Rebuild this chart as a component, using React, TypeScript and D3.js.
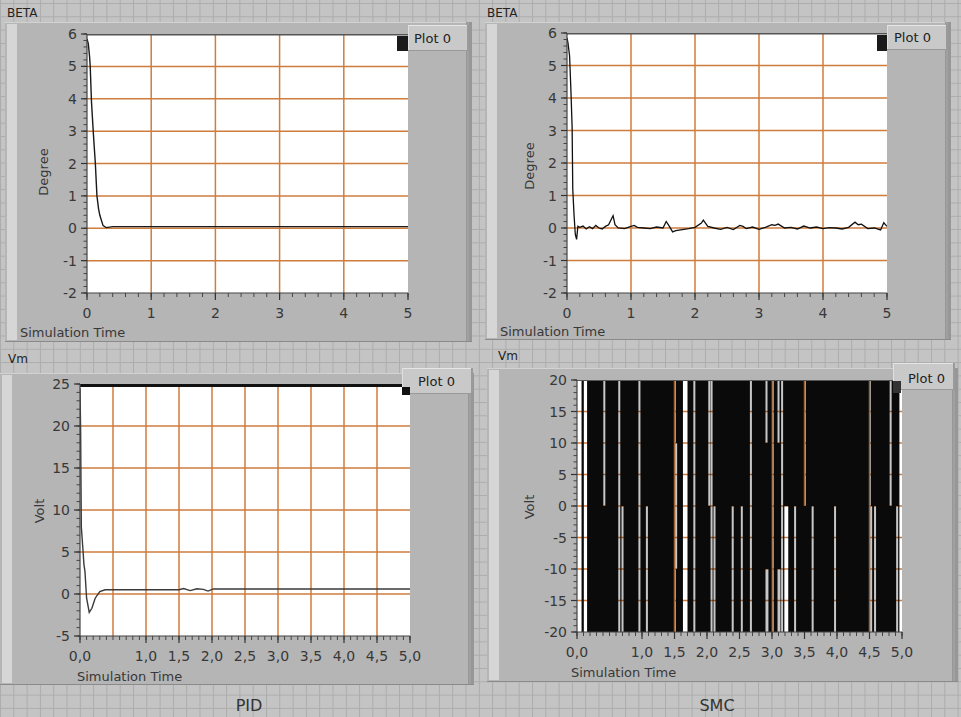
import type { ReactNode } from 'react';
import * as d3 from 'd3';

// BETA (degree) with the PID controller
const betaPidTime = [0, 0.02, 0.04, 0.05, 0.07, 0.1, 0.13, 0.155, 0.18, 0.2, 0.25, 0.3, 0.4, 1, 2, 3, 4, 5];
const betaPidDeg = [5.85, 5.7, 5.3, 5.0, 3.9, 2.9, 2.0, 1.0, 0.6, 0.4, 0.08, 0.02, 0.05, 0.05, 0.05, 0.05, 0.05, 0.05];

// BETA (degree) with the SMC controller
const betaSmcTime = [
  0, 0.015, 0.04, 0.06, 0.08, 0.09, 0.11, 0.13, 0.15, 0.17, 0.2, 0.25, 0.3, 0.35, 0.4, 0.45, 0.5, 0.55, 0.6,
  0.65, 0.7, 0.72, 0.75, 0.8, 0.9, 1.0, 1.05, 1.1, 1.2, 1.3, 1.4, 1.5, 1.55, 1.6, 1.65, 1.7, 1.8, 1.9, 2.0,
  2.1, 2.13, 2.2, 2.3, 2.4, 2.5, 2.6, 2.7, 2.75, 2.8, 2.9, 3.0, 3.1, 3.2, 3.25, 3.3, 3.4, 3.5, 3.6, 3.7, 3.8,
  3.9, 4.0, 4.1, 4.2, 4.3, 4.4, 4.5, 4.55, 4.6, 4.7, 4.8, 4.9, 4.95, 5.0,
];
const betaSmcDeg = [
  5.85, 5.7, 5.3, 4.3, 3.1, 1.2, 0.4, -0.2, -0.35, 0.05, 0.02, 0.06, -0.03, 0.04, -0.02, 0.08, 0.0, -0.03, 0.05,
  0.1, 0.3, 0.38, 0.1, 0.0, -0.02, 0.05, 0.08, 0.02, 0.0, -0.02, 0.03, 0.0, 0.2, 0.05, -0.12, -0.08, -0.05, -0.02,
  0.02, 0.15, 0.24, 0.05, 0.0, -0.04, 0.02, -0.05, 0.08, 0.05, -0.02, 0.03, -0.04, 0.02, 0.1, 0.08, 0.12, 0.0,
  0.02, -0.03, 0.06, 0.0, 0.03, -0.02, 0.01, 0.0, -0.03, 0.02, 0.18, 0.1, 0.12, -0.02, 0.0, -0.06, 0.16, 0.05,
];

// Vm (volt) with the PID controller
const vmPidTime = [0, 0.01, 0.015, 0.02, 0.04, 0.06, 0.075, 0.1, 0.14, 0.18, 0.23, 0.3, 0.38, 0.45, 1.5, 1.57, 1.67, 1.77, 1.87, 1.94, 2.02, 3, 4, 5];
const vmPidVolt = [24.5, 19.1, 13.2, 8, 5.8, 3.5, 2.7, -0.5, -2.2, -1.7, -0.5, 0.3, 0.5, 0.5, 0.5, 0.65, 0.4, 0.63, 0.55, 0.35, 0.6, 0.6, 0.6, 0.6];

// Vm with SMC: output chatters between +20 and -20 V; gaps are [t0, t1, vLow, vHigh]
const smcChatterSpan = [0, 4.96];
const smcGaps: [number, number, number, number][] = [
  [0.0, 0.07, -20, 20], [0.105, 0.155, -20, 20], [0.405, 0.43, 0, 20], [0.635, 0.66, -20, 20],
  [0.685, 0.71, -20, 0], [0.945, 0.97, -20, 20], [1.06, 1.085, -20, 0], [1.49, 1.51, -20, 20],
  [1.51, 1.535, -10, 10], [1.63, 1.7, -20, 20], [1.79, 1.815, -20, 20], [2.02, 2.045, 0, 20],
  [2.055, 2.08, -20, 20], [2.1, 2.125, -20, 0], [2.38, 2.405, -20, 0], [2.52, 2.545, -20, 0],
  [2.66, 2.685, -20, 20], [2.9, 2.925, 10, 20], [2.9, 2.945, -20, -10], [2.995, 3.02, -20, 20],
  [3.085, 3.11, 10, 20], [3.085, 3.13, -20, -10], [3.14, 3.165, -20, 20], [3.19, 3.25, -20, 0],
  [3.34, 3.365, -20, 0], [3.49, 3.51, 0, 20], [3.61, 3.635, -20, 0], [3.955, 3.98, -20, 0],
  [4.49, 4.51, -20, 20], [4.51, 4.535, -20, 0], [4.57, 4.595, -20, 0], [4.81, 4.835, 0, 20],
  [4.91, 4.935, -20, 0],
];

const betaYTicks = [-2, -1, 0, 1, 2, 3, 4, 5, 6];
const betaXTicks = [0, 1, 2, 3, 4, 5];
const vmPidYTicks = [-5, 0, 5, 10, 15, 20, 25];
const vmSmcYTicks = [-20, -15, -10, -5, 0, 5, 10, 15, 20];
const vmXTicks = [0, 1, 1.5, 2, 2.5, 3, 3.5, 4, 4.5, 5];
const vmXGrid = [0.5, 1, 1.5, 2, 2.5, 3, 3.5, 4, 4.5];

const locale = d3.formatLocale({ decimal: ',', thousands: '.', grouping: [3], currency: ['', ''], minus: '-' });
const fmtInt = locale.format('d');
const fmtDec = locale.format('.1f');

const FONT = '"DejaVu Sans", Verdana, sans-serif';
const GRID = '#cf7d3c';
const INK = '#383838';

type Box = { x: number; y: number; w: number; h: number };
type Scale = d3.ScaleLinear<number, number>;

type PanelProps = {
  id: string;
  title: string;
  titleAt: [number, number];
  yLabel: string;
  yLabelAt: [number, number];
  xLabelAt: [number, number];
  frame: Box;
  plot: Box;
  yDomain: [number, number];
  xTicks: number[];
  xGrid: number[];
  xMinor: number;
  yTicks: number[];
  yGrid: number[];
  yMinor: number;
  xFmt: (v: number) => string;
  yFmt: (v: number) => string;
  legend: Box;
  legendText: [number, number];
  swatch: Box;
  swatchColor: string;
  topEdge: [string, number];
  children: (x: Scale, y: Scale) => ReactNode;
};

function Panel(p: PanelProps) {
  const { frame, plot } = p;
  const x = d3.scaleLinear().domain([0, 5]).range([plot.x, plot.x + plot.w]);
  const y = d3.scaleLinear().domain(p.yDomain).range([plot.y + plot.h, plot.y]);
  const x1 = plot.x + plot.w;
  const y1 = plot.y + plot.h;
  const xMinor = d3.range(0, 5 + 1e-9, p.xMinor);
  const yMinor = d3.range(p.yDomain[0], p.yDomain[1] + 1e-9, p.yMinor);

  return (
    <g>
      {/* panel body */}
      <rect x={frame.x} y={frame.y} width={frame.w} height={frame.h} fill="#b5b5b5" />
      <rect x={frame.x + 2} y={frame.y + 2} width={10} height={frame.h - 4} fill="#d6d6d6" />
      <line x1={frame.x} x2={frame.x + frame.w} y1={frame.y + 0.5} y2={frame.y + 0.5} stroke="#d2d2d2" />
      <rect x={frame.x + frame.w - 6} y={frame.y} width={6} height={frame.h} fill="#979797" />
      <line x1={frame.x + frame.w - 4} x2={frame.x + frame.w - 4} y1={frame.y} y2={frame.y + frame.h} stroke="#aaa" />
      <line x1={frame.x} x2={frame.x + frame.w} y1={frame.y + frame.h - 0.5} y2={frame.y + frame.h - 0.5} stroke="#8a8a8a" />

      <text x={p.titleAt[0]} y={p.titleAt[1]} fontFamily={FONT} fontSize={12} fill="#222">{p.title}</text>

      {/* plot area */}
      <clipPath id={`clip-${p.id}`}>
        <rect x={plot.x} y={plot.y} width={plot.w} height={plot.h} />
      </clipPath>
      <rect x={plot.x} y={plot.y} width={plot.w} height={plot.h} fill="#fff" />
      <g stroke={GRID} strokeWidth={1.5}>
        {p.yGrid.map(v => (
          <line key={`gy${v}`} x1={plot.x} x2={x1} y1={y(v)} y2={y(v)} />
        ))}
        {p.xGrid.map(v => (
          <line key={`gx${v}`} x1={x(v)} x2={x(v)} y1={plot.y} y2={y1} />
        ))}
      </g>
      <g clipPath={`url(#clip-${p.id})`}>{p.children(x, y)}</g>
      <line x1={plot.x} x2={x1} y1={plot.y + p.topEdge[1] / 2} y2={plot.y + p.topEdge[1] / 2} stroke={p.topEdge[0]} strokeWidth={p.topEdge[1]} />

      {/* y axis */}
      <line x1={plot.x} x2={plot.x} y1={plot.y} y2={y1} stroke="#444" strokeWidth={1.2} />
      {yMinor.map(v => (
        <line key={`my${v}`} x1={plot.x - 3.5} x2={plot.x} y1={y(v)} y2={y(v)} stroke="#444" />
      ))}
      {p.yTicks.map(v => (
        <g key={`ty${v}`}>
          <line x1={plot.x - 6} x2={plot.x} y1={y(v)} y2={y(v)} stroke="#333" strokeWidth={1.2} />
          <text x={plot.x - 10} y={y(v)} dy="0.36em" textAnchor="end" fontFamily={FONT} fontSize={14} fill={INK}>
            {p.yFmt(v)}
          </text>
        </g>
      ))}

      {/* x axis */}
      <line x1={plot.x} x2={x1} y1={y1} y2={y1} stroke="#444" strokeWidth={1.2} />
      {xMinor.map(v => (
        <line key={`mx${v}`} x1={x(v)} x2={x(v)} y1={y1} y2={y1 + 4} stroke="#444" />
      ))}
      {p.xTicks.map(v => (
        <g key={`tx${v}`}>
          <line x1={x(v)} x2={x(v)} y1={y1} y2={y1 + 7} stroke="#333" strokeWidth={1.2} />
          <text x={x(v)} y={y1 + 25} textAnchor="middle" fontFamily={FONT} fontSize={14} fill={INK}>
            {p.xFmt(v)}
          </text>
        </g>
      ))}

      <text
        transform={`translate(${p.yLabelAt[0]},${p.yLabelAt[1]}) rotate(-90)`}
        textAnchor="middle"
        dy="0.35em"
        fontFamily={FONT}
        fontSize={13}
        fill={INK}
      >
        {p.yLabel}
      </text>
      <text x={p.xLabelAt[0]} y={p.xLabelAt[1]} fontFamily={FONT} fontSize={13} fill={INK}>
        Simulation Time
      </text>

      {/* legend */}
      <rect x={p.legend.x} y={p.legend.y} width={p.legend.w} height={p.legend.h} fill="#c9c9c9" />
      <line x1={p.legend.x} x2={p.legend.x + p.legend.w} y1={p.legend.y + 0.5} y2={p.legend.y + 0.5} stroke="#e6e6e6" />
      <line x1={p.legend.x + 0.5} x2={p.legend.x + 0.5} y1={p.legend.y} y2={p.legend.y + p.legend.h} stroke="#e0e0e0" />
      <line x1={p.legend.x} x2={p.legend.x + p.legend.w} y1={p.legend.y + p.legend.h - 0.5} y2={p.legend.y + p.legend.h - 0.5} stroke="#9a9a9a" />
      <line x1={p.legend.x + p.legend.w - 1} x2={p.legend.x + p.legend.w - 1} y1={p.legend.y} y2={p.legend.y + p.legend.h} stroke="#9a9a9a" strokeWidth={2} />
      <text x={p.legendText[0]} y={p.legendText[1]} fontFamily={FONT} fontSize={13} fill="#222">Plot 0</text>
      <rect x={p.swatch.x} y={p.swatch.y} width={p.swatch.w} height={p.swatch.h} fill={p.swatchColor} />
    </g>
  );
}

export default function App() {
  const lineOf = (x: Scale, y: Scale) =>
    d3
      .line<[number, number]>()
      .x(d => x(d[0]))
      .y(d => y(d[1]));

  const betaPid = betaPidTime.map((t, i) => [t, betaPidDeg[i]] as [number, number]);
  const betaSmc = betaSmcTime.map((t, i) => [t, betaSmcDeg[i]] as [number, number]);
  const vmPid = vmPidTime.map((t, i) => [t, vmPidVolt[i]] as [number, number]);

  return (
    <svg width={961} height={717} style={{ position: 'absolute', left: 0, top: 0, display: 'block' }}>
      <defs>
        <pattern id="paper" width={13.3} height={13.3} patternUnits="userSpaceOnUse" x={0} y={3}>
          <rect width={13.3} height={13.3} fill="#c4c4c4" />
          <path d="M0 0.5 H13.3 M0.5 0 V13.3" stroke="#acacac" strokeWidth={1} fill="none" />
        </pattern>
      </defs>
      <rect width={961} height={717} fill="url(#paper)" />

      <Panel
        id="tl"
        title="BETA"
        titleAt={[7, 17]}
        yLabel="Degree"
        yLabelAt={[43, 172]}
        xLabelAt={[20, 337]}
        frame={{ x: 5, y: 22, w: 467, h: 320 }}
        plot={{ x: 87, y: 34, w: 321, h: 259 }}
        yDomain={[-2, 6]}
        xTicks={betaXTicks}
        xGrid={[1, 2, 3, 4]}
        xMinor={0.2}
        yTicks={betaYTicks}
        yGrid={[-1, 0, 1, 2, 3, 4, 5]}
        yMinor={0.2}
        xFmt={fmtInt}
        yFmt={fmtInt}
        legend={{ x: 408, y: 25, w: 61, h: 26 }}
        legendText={[414, 43]}
        swatch={{ x: 397, y: 36, w: 11, h: 15 }}
        swatchColor="#1a1a1a"
        topEdge={['#555', 1.5]}
      >
        {(x, y) => <path d={lineOf(x, y)(betaPid) ?? ''} fill="none" stroke="#1a1a1a" strokeWidth={1.4} />}
      </Panel>

      <Panel
        id="tr"
        title="BETA"
        titleAt={[487, 17]}
        yLabel="Degree"
        yLabelAt={[529, 166]}
        xLabelAt={[500, 336]}
        frame={{ x: 485, y: 22, w: 466, h: 318 }}
        plot={{ x: 567, y: 33, w: 320, h: 260 }}
        yDomain={[-2, 6]}
        xTicks={betaXTicks}
        xGrid={[1, 2, 3, 4]}
        xMinor={0.2}
        yTicks={betaYTicks}
        yGrid={[-1, 0, 1, 2, 3, 4, 5]}
        yMinor={0.2}
        xFmt={fmtInt}
        yFmt={fmtInt}
        legend={{ x: 887, y: 25, w: 61, h: 25 }}
        legendText={[894, 42]}
        swatch={{ x: 877, y: 35, w: 10, h: 16 }}
        swatchColor="#1a1a1a"
        topEdge={['#555', 1.5]}
      >
        {(x, y) => <path d={lineOf(x, y)(betaSmc) ?? ''} fill="none" stroke="#111" strokeWidth={1.3} />}
      </Panel>

      <Panel
        id="bl"
        title="Vm"
        titleAt={[8, 363]}
        yLabel="Volt"
        yLabelAt={[39, 511]}
        xLabelAt={[77, 681]}
        frame={{ x: 0, y: 373, w: 474, h: 312 }}
        plot={{ x: 80, y: 384, w: 330, h: 252 }}
        yDomain={[-5, 25]}
        xTicks={vmXTicks}
        xGrid={vmXGrid}
        xMinor={0.1}
        yTicks={vmPidYTicks}
        yGrid={[0, 5, 10, 15, 20]}
        yMinor={1}
        xFmt={fmtDec}
        yFmt={fmtInt}
        legend={{ x: 402, y: 368, w: 71, h: 26 }}
        legendText={[418, 386]}
        swatch={{ x: 402, y: 387, w: 8, h: 8 }}
        swatchColor="#111"
        topEdge={['#111', 3]}
      >
        {(x, y) => <path d={lineOf(x, y)(vmPid) ?? ''} fill="none" stroke="#3a3a3a" strokeWidth={1.4} />}
      </Panel>

      <Panel
        id="br"
        title="Vm"
        titleAt={[498, 360]}
        yLabel="Volt"
        yLabelAt={[529, 507]}
        xLabelAt={[571, 677]}
        frame={{ x: 487, y: 368, w: 471, h: 314 }}
        plot={{ x: 577, y: 380, w: 325, h: 252 }}
        yDomain={[-20, 20]}
        xTicks={vmXTicks}
        xGrid={vmXGrid}
        xMinor={0.1}
        yTicks={vmSmcYTicks}
        yGrid={[-15, -10, -5, 0, 5, 10, 15]}
        yMinor={1}
        xFmt={fmtDec}
        yFmt={fmtInt}
        legend={{ x: 893, y: 363, w: 62, h: 27 }}
        legendText={[908, 383]}
        swatch={{ x: 893, y: 381, w: 8, h: 12 }}
        swatchColor="#333"
        topEdge={['#555', 1]}
      >
        {(x, y) => (
          <g>
            <mask id="smc-gaps" maskUnits="userSpaceOnUse" x={0} y={0} width={961} height={717}>
              <rect x={0} y={0} width={961} height={717} fill="#fff" />
              {smcGaps.map(([t0, t1, lo, hi], i) => {
                const raw = x(t1) - x(t0);
                const w = Math.max(raw, 2);
                return (
                  <rect
                    key={i}
                    x={x(t0)}
                    y={y(hi)}
                    width={w}
                    height={y(lo) - y(hi)}
                    fill={raw >= 3 ? '#000' : '#3a3a3a'}
                  />
                );
              })}
            </mask>
            <rect
              x={x(smcChatterSpan[0])}
              y={y(20)}
              width={x(smcChatterSpan[1]) - x(smcChatterSpan[0])}
              height={y(-20) - y(20)}
              fill="#0a0a0a"
              mask="url(#smc-gaps)"
            />
          </g>
        )}
      </Panel>

      <text x={249} y={711} textAnchor="middle" fontFamily={FONT} fontSize={16} fill="#333">PID</text>
      <text x={717} y={711} textAnchor="middle" fontFamily={FONT} fontSize={16} fill="#333">SMC</text>
    </svg>
  );
}
